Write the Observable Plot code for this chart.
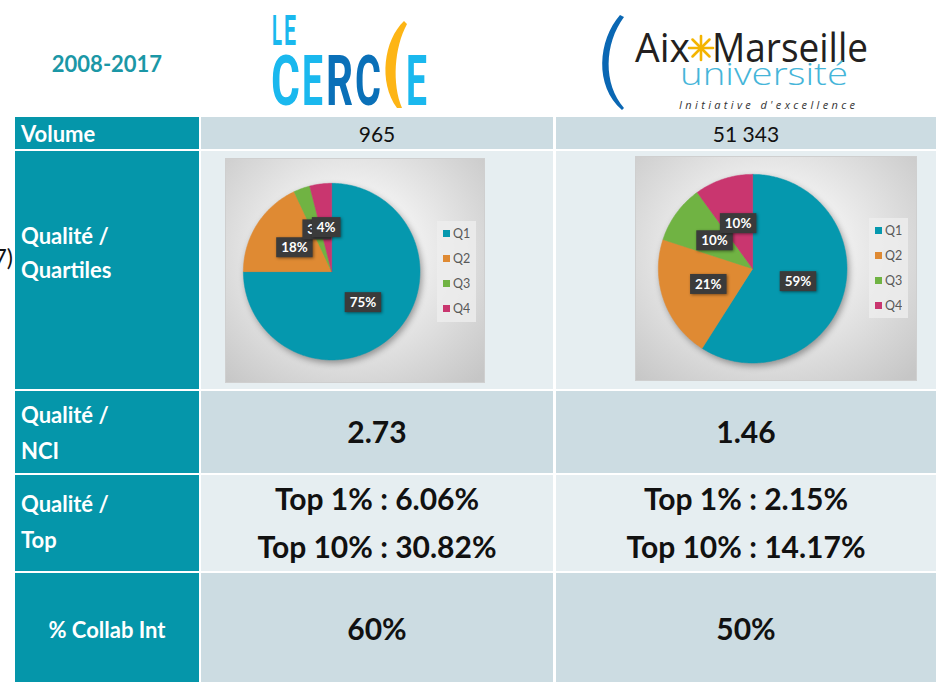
<!DOCTYPE html>
<html lang="fr"><head><meta charset="utf-8">
<script src="https://cdn.jsdelivr.net/npm/d3@7"></script>
<script src="https://cdn.jsdelivr.net/npm/@observablehq/plot@0.6"></script>
<style>
html,body{margin:0;padding:0;background:#fff;}
#slide{position:relative;width:936px;height:682px;overflow:hidden;}
#table{position:absolute;left:0;top:0;}
.chart{position:absolute;box-sizing:border-box;border:1px solid #cfcfcf;
  background:radial-gradient(ellipse 72% 78% at 48% 42%, #ffffff 0%, #f4f4f4 30%, #d6d6d6 75%, #c6c6c6 100%);}
.chart svg{position:absolute;left:0;top:0;}
.legend{position:absolute;background:rgba(238,238,238,0.8);padding:0 0 0 6px;box-sizing:border-box;}
.legend .lg-swatch{height:25px !important;padding:0 !important;margin:0 !important;display:flex;align-items:center;
  font-size:12.5px !important;color:#595959 !important;font-family:Lato,'Open Sans',sans-serif !important;}
.legend .lg-swatch *{font-size:12.5px !important;}
.legend svg{position:static !important;margin-right:3px !important;}
</style></head><body><div id="slide"></div>
<script>
// ---------- data ----------
const period = "2008-2017";
const institutions = ["Le Cercle", "Aix-Marseille Université"];
const rowLabels = [["Volume"], ["Qualité /", "Quartiles"], ["Qualité /", "NCI"], ["Qualité /", "Top"], ["% Collab Int"]];
const volume = ["965", "51 343"];
const quartiles = ["Q1", "Q2", "Q3", "Q4"];
const quartilesCercle = [75, 18, 3, 4];
const quartilesAMU = [59, 21, 10, 10];
const nci = ["2.73", "1.46"];
const top1 = ["6.06%", "2.15%"];
const top10 = ["30.82%", "14.17%"];
const collabInt = ["60%", "50%"];
const quartileColors = ["#0598ae", "#df8a33", "#70b343", "#c9366f"];

// ---------- layout ----------
const FONT = "Lato, 'Open Sans', sans-serif";
const colEdges = [[15,199],[201,553],[556,936]];
const rowEdges = [[12,115],[117,149],[151,389],[391,473],[475,571],[573,682]];
const rowFill = ["#ffffff","#ccdce2","#e6eef1","#ccdce2","#e6eef1","#ccdce2"];
const labelFill = "#0596aa";
const colCenter = [377, 746];
const labelBaselines = [[142],[244,278],[423,459],[512,548],[638]];

const slide = document.getElementById("slide");
const svg = d3.create("svg").attr("id","table").attr("width",936).attr("height",682)
  .style("font-family", FONT);

rowEdges.forEach(([y0,y1], r) => colEdges.forEach(([x0,x1], c) => {
  svg.append("rect").attr("x",x0).attr("y",y0).attr("width",x1-x0).attr("height",y1-y0)
    .attr("fill", r > 0 && c === 0 ? labelFill : rowFill[r]);
}));

// header period
svg.append("text").attr("x",107).attr("y",72).attr("text-anchor","middle")
  .attr("font-size",22).attr("font-weight",700).attr("fill","#1b97a6").text(period);

// cropped text at far left
svg.append("text").attr("x",13).attr("y",266).attr("text-anchor","end")
  .attr("font-size",23).attr("fill","#111").text("(" + period + ")");

// row labels
rowLabels.forEach((lines, i) => {
  const single = i === rowLabels.length - 1;
  lines.forEach((line, j) => {
    svg.append("text").attr("x", single ? 107 : 21).attr("y", labelBaselines[i][j])
      .attr("text-anchor", single ? "middle" : "start")
      .attr("font-size", 22).attr("font-weight", 700).attr("fill", "#fff").text(line);
  });
});

// values
institutions.forEach((inst, k) => {
  const x = colCenter[k];
  svg.append("text").attr("x",x).attr("y",142).attr("text-anchor","middle").attr("font-size",21).attr("fill","#111").text(volume[k]);
  svg.append("text").attr("x",x).attr("y",443).attr("text-anchor","middle").attr("font-size",30).attr("font-weight",700).attr("fill","#111").text(nci[k]);
  svg.append("text").attr("x",x).attr("y",510).attr("text-anchor","middle").attr("font-size",30).attr("font-weight",700).attr("fill","#111").text("Top 1% : " + top1[k]);
  svg.append("text").attr("x",x).attr("y",558).attr("text-anchor","middle").attr("font-size",30).attr("font-weight",700).attr("fill","#111").text("Top 10% : " + top10[k]);
  svg.append("text").attr("x",x).attr("y",640).attr("text-anchor","middle").attr("font-size",30).attr("font-weight",700).attr("fill","#111").text(collabInt[k]);
});

// ---------- logos ----------
const logo = svg.append("g").attr("aria-label","logos");
// Le Cercle
const lb = "#1ab8ee", db = "#0a70b8";
const condensed = (t, x, w, base, size, fill) => logo.append("text").attr("x",x).attr("y",base)
  .attr("textLength",w).attr("lengthAdjust","spacingAndGlyphs").attr("font-weight",700)
  .attr("font-family","Roboto, 'DejaVu Sans', sans-serif").attr("font-size",size).attr("fill",fill).text(t);
condensed("L", 272, 10, 45, 42, lb);
condensed("E", 284, 12, 45, 42, lb);
condensed("C", 271, 29, 105, 70, lb);
condensed("E", 302, 21, 105, 70, lb);
condensed("R", 326, 27, 105, 70, db);
condensed("C", 355, 26, 105, 70, db);
condensed("E", 406, 21, 105, 70, lb);
logo.append("path").attr("fill","#fdb515")
  .attr("d","M404,21 C384,40 378,82 397,108 L402,108 C392,84 394,48 407,24 Z");
// Aix-Marseille
logo.append("path").attr("fill","#0a67b3")
  .attr("d","M620,15 C598,40 594,86 622,110 L624,108 C603,84 604,44 624,17 Z");
const aixFont = "'Open Sans', 'Noto Sans', sans-serif";
logo.append("text").attr("x",635).attr("y",62).attr("textLength",55).attr("lengthAdjust","spacingAndGlyphs")
  .attr("font-family",aixFont).attr("font-size",41).attr("fill","#231f20").text("Aix");
logo.append("text").attr("x",712).attr("y",62).attr("textLength",156).attr("lengthAdjust","spacingAndGlyphs")
  .attr("font-family",aixFont).attr("font-size",41).attr("fill","#231f20").text("Marseille");
const star = logo.append("g").attr("stroke","#f4b400").attr("stroke-width",2.6).attr("stroke-linecap","round");
[0,45,90,135].forEach(a => {
  const r = 12, t = a*Math.PI/180;
  star.append("line").attr("x1",701-r*Math.cos(t)).attr("y1",48-r*Math.sin(t))
    .attr("x2",701+r*Math.cos(t)).attr("y2",48+r*Math.sin(t));
});
logo.append("text").attr("x",680).attr("y",85).attr("textLength",168).attr("lengthAdjust","spacingAndGlyphs")
  .attr("font-family",aixFont).attr("font-weight",300).attr("font-size",32).attr("fill","#45b5d9").text("université");
logo.append("text").attr("x",679).attr("y",109).attr("textLength",176).attr("lengthAdjust","spacing")
  .attr("font-family",aixFont).attr("font-style","italic").attr("font-size",11).attr("fill","#333").text("Initiative d'excellence");

slide.appendChild(svg.node());

// ---------- pies ----------
function pieChart(values, box, cx, cy, r, leg) {
  const arcs = d3.pie().sort(null).value(d => d)(values);
  const pts = [];
  arcs.forEach((a, i) => {
    const q = quartiles[i];
    pts.push({q, x: 0, y: 0});
    const n = Math.max(2, Math.ceil((a.endAngle - a.startAngle) / (Math.PI / 180)));
    for (let k = 0; k <= n; k++) {
      const t = a.startAngle + (a.endAngle - a.startAngle) * k / n;
      pts.push({q, x: Math.sin(t), y: Math.cos(t)});
    }
    pts.push({q, x: 0, y: 0});
  });
  const labels = arcs.map((a, i) => {
    const m = (a.startAngle + a.endAngle) / 2;
    return {q: quartiles[i], x: 0.5 * Math.sin(m), y: 0.5 * Math.cos(m), label: values[i] + "%"};
  });
  const div = document.createElement("div");
  div.className = "chart";
  Object.assign(div.style, {left: box.left + "px", top: box.top + "px", width: box.width + "px", height: box.height + "px"});
  const plot = Plot.plot({
    width: box.width, height: box.height,
    marginLeft: cx - r, marginRight: box.width - cx - r,
    marginTop: cy - r, marginBottom: box.height - cy - r,
    x: {domain: [-1, 1], axis: null},
    y: {domain: [-1, 1], axis: null},
    color: {domain: quartiles, range: quartileColors},
    style: {background: "transparent", overflow: "visible", fontFamily: FONT},
    marks: [
      Plot.line(pts, {x: "x", y: "y", z: "q", fill: "q", stroke: "q", strokeWidth: 0.5, curve: "linear"}),
      Plot.text(labels, {x: "x", y: "y", text: "label", fill: "white", fontWeight: "bold", fontSize: 13.5})
    ]
  });
  div.appendChild(plot);
  const lg = Plot.legend({color: {domain: quartiles, range: quartileColors}, legend: "swatches",
    columns: 1, swatchSize: 7, className: "lg",
    style: {fontSize: "12.5px", color: "#595959", fontFamily: FONT, margin: 0}});
  const ld = document.createElement("div");
  ld.className = "legend";
  Object.assign(ld.style, {left: leg.left + "px", top: leg.top + "px", width: leg.width + "px", height: leg.height + "px"});
  ld.appendChild(lg);
  div.appendChild(ld);
  slide.appendChild(div);
  // shadows + label boxes
  plot.querySelectorAll('g[aria-label="line"]').forEach(g => g.style.filter = "drop-shadow(2px 3px 3px rgba(0,0,0,0.35))");
  plot.querySelectorAll('g[aria-label="text"] text').forEach(t => {
    const b = t.getBBox();
    const rect = document.createElementNS("http://www.w3.org/2000/svg", "rect");
    rect.setAttribute("x", b.x - 5); rect.setAttribute("y", b.y - 2);
    rect.setAttribute("width", b.width + 10); rect.setAttribute("height", b.height + 4);
    rect.setAttribute("fill", "#3b3b3b");
    rect.style.filter = "drop-shadow(1.5px 1.5px 1.5px rgba(0,0,0,0.45))";
    if (t.getAttribute("transform")) rect.setAttribute("transform", t.getAttribute("transform"));
    t.parentNode.insertBefore(rect, t);
  });
}

pieChart(quartilesCercle, {left: 225, top: 158, width: 260, height: 225}, 106, 113, 89,
  {left: 211, top: 62, width: 39, height: 101});
pieChart(quartilesAMU, {left: 635, top: 156, width: 282, height: 225}, 117, 112, 95,
  {left: 233, top: 61, width: 39, height: 100});
</script></body></html>
